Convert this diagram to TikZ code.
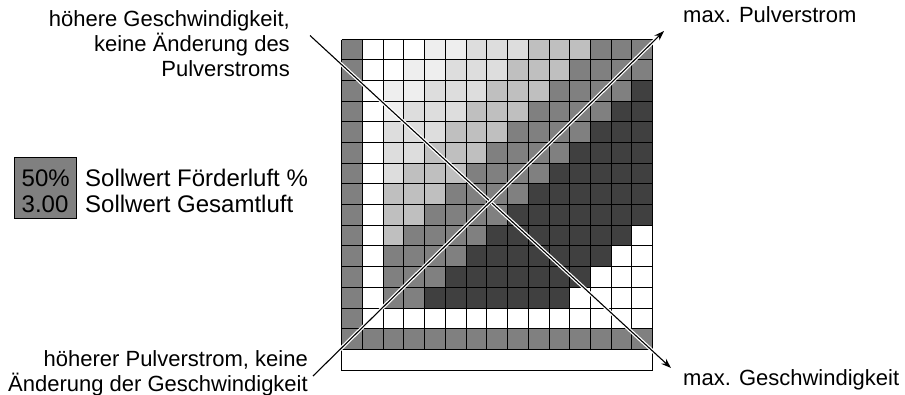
\documentclass[tikz,border=0pt]{standalone}
\usepackage{fontspec}
\setmainfont{Liberation Sans}
\usetikzlibrary{arrows.meta}
\definecolor{cLa}{HTML}{EEEEEE}
\definecolor{cLb}{HTML}{DDDDDD}
\definecolor{cLc}{HTML}{BFBFBF}
\definecolor{cM}{HTML}{808080}
\definecolor{cD}{HTML}{404040}
\begin{document}
\begin{tikzpicture}[x=1pt,y=-1pt,
  lbl/.style={inner sep=0pt, font=\fontsize{22}{25}\selectfont},
  boxtxt/.style={inner sep=0pt, font=\fontsize{24}{26}\selectfont},
  gridline/.style={line width=1.3pt, black},
  halo/.style={line width=3.6pt, white},
  axisarrow/.style={line width=1.1pt, black, -{Stealth[length=10pt,width=7pt]}},
  valbox/.style={draw=black, line width=0.9pt, fill=cM}]
\useasboundingbox (0,0) rectangle (905,394);
\def\cw{20.733}
\def\ch{20.7}
\def\gx{341.7}
\def\gy{39}
% cells
\foreach \r in {0,...,14} {
  \foreach \c in {0,...,14} {
    \pgfmathtruncatemacro\s{\c+\r}
    \pgfmathsetmacro\xa{floor(\gx+\c*\cw)+0.5}
    \pgfmathsetmacro\xb{floor(\gx+(\c+1)*\cw)+0.5}
    \pgfmathsetmacro\ya{floor(\gy+\r*\ch)+0.5}
    \pgfmathsetmacro\yb{floor(\gy+(\r+1)*\ch)+0.5}
    \ifnum\c=0 \def\col{cM}\else
    \ifnum\r=14 \def\col{cM}\else
    \ifnum\r=13 \def\col{white}\else
    \ifnum\c=1 \def\col{white}\else
    \ifnum\s<4 \def\col{white}\else
    \ifnum\s<6 \def\col{cLa}\else
    \ifnum\s<9 \def\col{cLb}\else
    \ifnum\s<12 \def\col{cLc}\else
    \ifnum\s<16 \def\col{cM}\else
    \ifnum\s<23 \def\col{cD}\else \def\col{white}%
    \fi\fi\fi\fi\fi\fi\fi\fi\fi\fi
    \fill[\col] (\xa,\ya) rectangle (\xb,\yb);
  }
}
% grid lines
\pgfmathsetmacro\xl{floor(\gx)+0.5}
\pgfmathsetmacro\xr{floor(\gx+15*\cw)+0.5}
\pgfmathsetmacro\yt{floor(\gy)+0.5}
\pgfmathsetmacro\ybt{floor(\gy+15*\ch)+0.5}
\foreach \i in {0,...,15} {
  \pgfmathsetmacro\xx{floor(\gx+\i*\cw)+0.5}
  \pgfmathsetmacro\yy{floor(\gy+\i*\ch)+0.5}
  \draw[gridline] (\xx,\yt) -- (\xx,\ybt);
  \draw[gridline] (\xl,\yy) -- (\xr,\yy);
}
\draw[gridline] (\xl,\ybt) rectangle (\xr,370.5);
% diagonal connectors
\coordinate (s1) at (310,35.5);
\coordinate (e1) at (671,368);
\coordinate (s2) at (313,376);
\coordinate (e2) at (664,31);
\draw[halo] (s1) -- (e1);
\draw[axisarrow] (s1) -- (e1);
\draw[halo] (s2) -- (e2);
\draw[axisarrow] (s2) -- (e2);
% labels
\node[lbl, anchor=north east, align=right] (tl) at (290,10.5)
  {höhere Geschwindigkeit,\\keine Änderung des\\Pulverstroms};
\node[lbl, anchor=north east, align=right] (bl) at (308,350)
  {höherer Pulverstrom, keine\\Änderung der Geschwindigkeit};
\node[lbl, anchor=base west] (tr) at (683,22) {max. Pulverstrom};
\node[lbl, anchor=base west] (br) at (683,385) {max. Geschwindigkeit};
% value box
\node[valbox, minimum width=62pt, minimum height=61.6pt, inner sep=0pt, anchor=north west] (vb) at (14,156.7) {};
\node[boxtxt, anchor=base west] (v1) at (21.5,186.5) {50\%};
\node[boxtxt, anchor=base west] (v2) at (21.5,212.5) {3.00};
\node[boxtxt, anchor=base west] (t1) at (85,186.5) {Sollwert Förderluft \%};
\node[boxtxt, anchor=base west] (t2) at (85,212.5) {Sollwert Gesamtluft};
\end{tikzpicture}
\end{document}
